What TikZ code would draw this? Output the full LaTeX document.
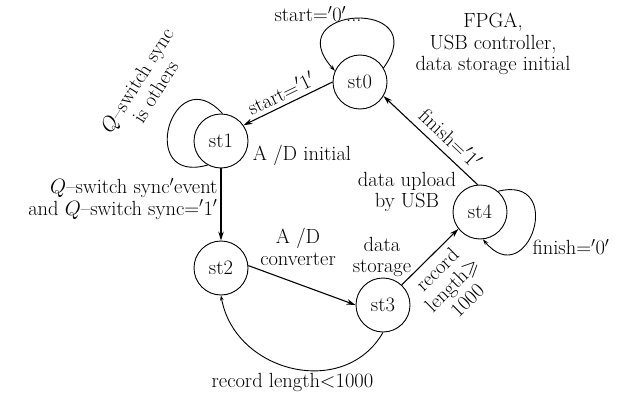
\documentclass[tikz,border=0pt]{standalone}
\usepackage{amsmath, amssymb}
\usepackage{tikz}
\usetikzlibrary{arrows.meta}

\begin{document}
\begin{tikzpicture}[x=1pt, y=1pt, font=\fontsize{20.5}{21.5}\selectfont,
  state/.style={circle, draw, line width=0.9pt, minimum size=54pt, inner sep=0pt},
  trans/.style={line width=1.1pt, -{Stealth[length=9pt, width=5.5pt]}},
  selfloop/.style={line width=0.9pt},
  txt/.style={align=center, inner sep=1pt}]
\useasboundingbox (0,0) rectangle (621,-401);
\foreach \n/\x/\y in {st0/360/82, st1/221/141, st2/221/268, st3/383/305, st4/480/212}
  \node[state] (\n) at (\x,-\y) {\n};
% self loops
\draw[selfloop, -{Stealth[length=6pt, width=4pt]}] (st0.31) to[out=54, in=132, looseness=4.6] (st0.156);
\draw[selfloop] (st1.87) to[out=132, in=196, looseness=3.6] (st1.241);
\draw[selfloop, -{Stealth[length=6pt, width=4pt]}] (st4.49) to[out=14, in=310, looseness=3.6] (st4.276);
% transitions
\draw[trans] (st0.180) -- node[sloped, above=3pt, pos=0.52, inner sep=1pt] {start=$'$1$'$} (st1.35);
\draw[trans] (st1) -- node[left, pos=0.42, align=right, inner sep=3pt] {$Q$--switch sync$'$event\\and $Q$--switch sync=$'$1$'$} (st2);
\draw[trans] (st2.5) -- (st3.180);
\draw[trans] (st3.47) -- node[sloped, below=5pt, pos=0.45, align=center, inner sep=1pt] {record\\length$\geqslant$\\1000} (st4.218);
\draw[trans] (st4.95) -- node[sloped, above=6pt, pos=0.4, inner sep=1pt] {finish=$'$1$'$} (st0.329);
\draw[selfloop, -{Stealth[length=5pt, width=3.5pt]}] (st3.270) to[out=240, in=280, looseness=1.2] node[below=1pt] {record length<1000} (st2.270);
% state actions
\node[txt] (t0) at (318,-14) {start=$'$0$'$...};
\node[txt] (t1) at (493,-44) {FPGA,\\USB controller,\\data storage initial};
\node[txt, rotate=58] (t2) at (146,-86) {$Q$--switch sync\\is others};
\node[txt] (t3) at (302,-155) {A /D initial};
\node[txt] (t4) at (298,-247) {A /D\\converter};
\node[txt] (t5) at (382,-257) {data\\storage};
\node[txt] (t6) at (407,-192) {data upload\\by USB};
\node[txt] (t7) at (571,-247) {finish=$'$0$'$};
\end{tikzpicture}
\end{document}
